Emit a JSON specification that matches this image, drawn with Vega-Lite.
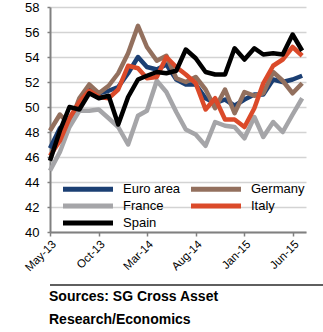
{
  "$schema": "https://vega.github.io/schema/vega-lite/v6.json",
  "padding": {"left": 4, "top": 1, "right": 0, "bottom": 0},
  "autosize": {"type": "pad"},
  "config": {
    "font": "Liberation Sans",
    "view": {"stroke": null},
    "concat": {"spacing": 10}
  },
  "vconcat": [
    {
      "width": 256,
      "height": 225,
      "data": {"values": [
        {"date": "2013-05-01", "Euro area": 46.7, "Germany": 48.1, "France": 44.9, "Italy": 46.1, "Spain": 45.7},
        {"date": "2013-06-01", "Euro area": 48.3, "Germany": 49.4, "France": 46.4, "Italy": 47.3, "Spain": 48.1},
        {"date": "2013-07-01", "Euro area": 48.8, "Germany": 48.6, "France": 48.4, "Italy": 49.1, "Spain": 50.0},
        {"date": "2013-08-01", "Euro area": 50.3, "Germany": 50.7, "France": 49.7, "Italy": 50.4, "Spain": 49.8},
        {"date": "2013-09-01", "Euro area": 51.4, "Germany": 51.8, "France": 49.7, "Italy": 51.3, "Spain": 51.1},
        {"date": "2013-10-01", "Euro area": 51.1, "Germany": 51.1, "France": 49.8, "Italy": 50.8, "Spain": 50.7},
        {"date": "2013-11-01", "Euro area": 51.3, "Germany": 51.7, "France": 49.1, "Italy": 50.7, "Spain": 50.9},
        {"date": "2013-12-01", "Euro area": 51.6, "Germany": 52.7, "France": 48.4, "Italy": 51.4, "Spain": 48.6},
        {"date": "2014-01-01", "Euro area": 52.7, "Germany": 54.3, "France": 47.0, "Italy": 53.3, "Spain": 50.8},
        {"date": "2014-02-01", "Euro area": 54.0, "Germany": 56.5, "France": 49.3, "Italy": 53.1, "Spain": 52.2},
        {"date": "2014-03-01", "Euro area": 53.2, "Germany": 54.8, "France": 49.7, "Italy": 52.3, "Spain": 52.5},
        {"date": "2014-04-01", "Euro area": 53.0, "Germany": 53.7, "France": 52.1, "Italy": 52.4, "Spain": 52.8},
        {"date": "2014-05-01", "Euro area": 53.4, "Germany": 54.1, "France": 51.2, "Italy": 54.0, "Spain": 52.7},
        {"date": "2014-06-01", "Euro area": 52.2, "Germany": 52.3, "France": 49.6, "Italy": 53.2, "Spain": 52.9},
        {"date": "2014-07-01", "Euro area": 51.8, "Germany": 52.0, "France": 48.2, "Italy": 52.6, "Spain": 54.6},
        {"date": "2014-08-01", "Euro area": 51.8, "Germany": 52.4, "France": 47.8, "Italy": 51.9, "Spain": 53.9},
        {"date": "2014-09-01", "Euro area": 50.7, "Germany": 51.4, "France": 46.9, "Italy": 49.8, "Spain": 52.8},
        {"date": "2014-10-01", "Euro area": 50.3, "Germany": 49.9, "France": 48.8, "Italy": 50.7, "Spain": 52.6},
        {"date": "2014-11-01", "Euro area": 50.6, "Germany": 51.4, "France": 48.5, "Italy": 49.0, "Spain": 52.6},
        {"date": "2014-12-01", "Euro area": 50.1, "Germany": 49.5, "France": 48.4, "Italy": 49.0, "Spain": 54.7},
        {"date": "2015-01-01", "Euro area": 50.6, "Germany": 51.2, "France": 47.5, "Italy": 48.4, "Spain": 53.8},
        {"date": "2015-02-01", "Euro area": 51.0, "Germany": 50.9, "France": 49.2, "Italy": 49.9, "Spain": 54.7},
        {"date": "2015-03-01", "Euro area": 51.0, "Germany": 51.1, "France": 47.6, "Italy": 51.9, "Spain": 54.2},
        {"date": "2015-04-01", "Euro area": 52.2, "Germany": 52.8, "France": 48.8, "Italy": 53.3, "Spain": 54.3},
        {"date": "2015-05-01", "Euro area": 52.0, "Germany": 52.1, "France": 48.0, "Italy": 53.8, "Spain": 54.2},
        {"date": "2015-06-01", "Euro area": 52.2, "Germany": 51.1, "France": 49.4, "Italy": 54.8, "Spain": 55.8},
        {"date": "2015-07-01", "Euro area": 52.5, "Germany": 51.9, "France": 50.7, "Italy": 54.1, "Spain": 54.5}
      ]},
      "transform": [{"fold": ["Euro area", "Germany", "France", "Italy", "Spain"], "as": ["series", "value"]}],
      "mark": {"type": "line", "strokeWidth": 4.5, "strokeJoin": "round"},
      "encoding": {
        "x": {
          "field": "date", "type": "temporal",
          "scale": {"type": "utc", "domain": [
            {"year": 2013, "month": 5, "date": 1, "utc": true},
            {"year": 2015, "month": 7, "date": 13, "utc": true}
          ]},
          "axis": {
            "title": null, "grid": false,
            "values": [
              {"year": 2013, "month": 5, "date": 1, "utc": true},
              {"year": 2013, "month": 10, "date": 1, "utc": true},
              {"year": 2014, "month": 3, "date": 1, "utc": true},
              {"year": 2014, "month": 8, "date": 1, "utc": true},
              {"year": 2015, "month": 1, "date": 1, "utc": true},
              {"year": 2015, "month": 6, "date": 1, "utc": true}
            ],
            "format": "%b-%y", "labelAngle": -45, "labelFontSize": 11.5, "labelColor": "#000000",
            "domainColor": "#808080", "domainWidth": 2, "tickColor": "#808080", "tickWidth": 1.5, "tickSize": 4,
            "labelPadding": 2
          }
        },
        "y": {
          "field": "value", "type": "quantitative",
          "scale": {"domain": [40, 58], "nice": false, "zero": false},
          "axis": {
            "title": null, "values": [40, 42, 44, 46, 48, 50, 52, 54, 56, 58],
            "gridColor": "#D3D3D3", "gridWidth": 1.5,
            "domainColor": "#808080", "domainWidth": 2, "tickColor": "#808080", "tickWidth": 1.5, "tickSize": 3,
            "labelFontSize": 13, "labelColor": "#000000", "labelPadding": 8, "minExtent": 46
          }
        },
        "color": {
          "field": "series", "type": "nominal",
          "scale": {"domain": ["Euro area", "Germany", "France", "Italy", "Spain"],
                    "range": ["#1B3F73", "#93705E", "#A5A5A8", "#DB4A2A", "#000000"]},
          "legend": {
            "title": null, "orient": "none", "legendX": 31.5, "legendY": 175.5, "columns": 2,
            "direction": "horizontal",
            "symbolType": "M-25,0H25", "symbolSize": 4, "symbolStrokeWidth": 5,
            "labelFontSize": 13, "labelColor": "#000000", "labelOffset": 28.5,
            "columnPadding": 0, "rowPadding": -5
          }
        }
      }
    },
    {
      "width": 319,
      "height": 2,
      "data": {"values": [{"v": 1}]},
      "mark": {"type": "rule", "color": "#5F5F5F", "strokeWidth": 2},
      "encoding": {
        "y": {"field": "v", "type": "quantitative", "scale": {"domain": [0, 1]}, "axis": null}
      },
      "title": {
        "text": ["Sources: SG Cross Asset", "Research/Economics"],
        "orient": "bottom", "anchor": "start", "fontSize": 14, "fontWeight": "bold",
        "lineHeight": 23, "offset": 3, "color": "#000000"
      }
    }
  ]
}
